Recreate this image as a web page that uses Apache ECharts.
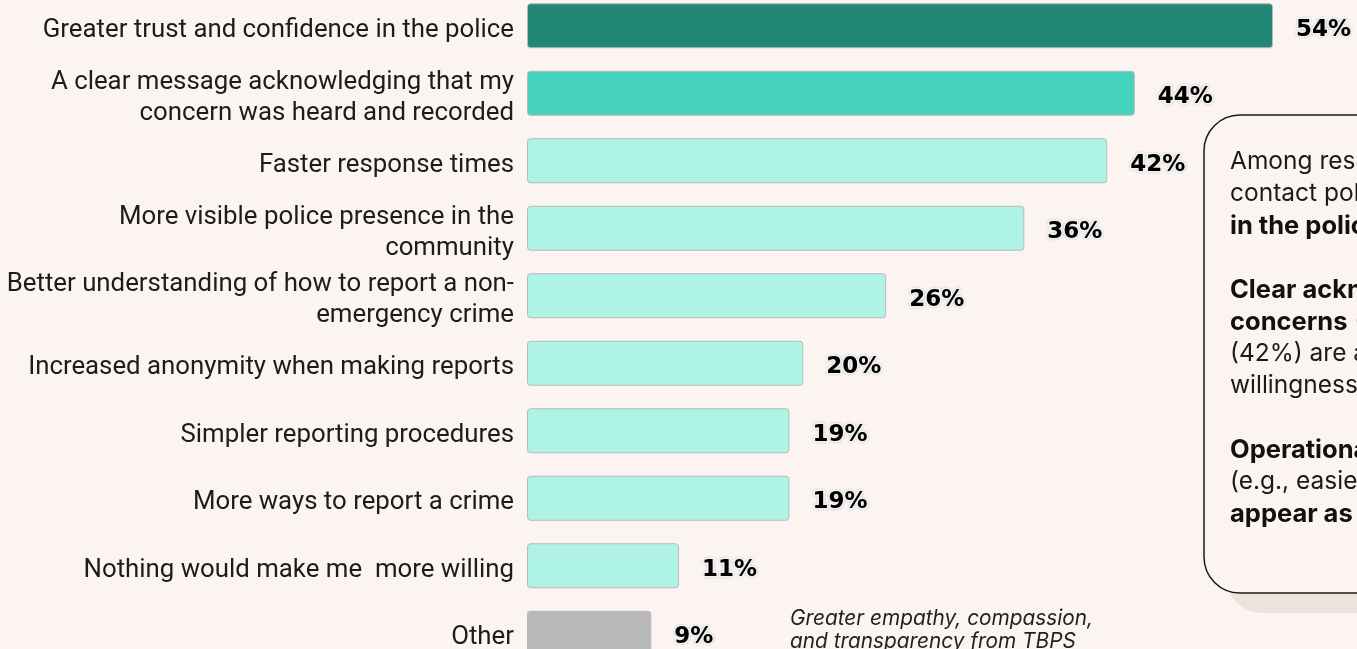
<!DOCTYPE html>
<html>
<head>
<meta charset="utf-8">
<script src="https://cdn.jsdelivr.net/npm/echarts@6/dist/echarts.min.js"></script>
<style>
  html, body { margin: 0; padding: 0; background: #FCF4F1; overflow: hidden; width: 1357px; height: 649px; }
  #chart { position: absolute; left: 0; top: -8px; width: 1357px; height: 675px; }
</style>
</head>
<body>
<div id="chart"></div>
<script>
// Survey: what would make respondents more willing to contact police
const categories = [
  'Greater trust and confidence in the police',
  'A clear message acknowledging that my\nconcern was heard and recorded',
  'Faster response times',
  'More visible police presence in the\ncommunity',
  'Better understanding of how to report a non-\nemergency crime',
  'Increased anonymity when making reports',
  'Simpler reporting procedures',
  'More ways to report a crime',
  'Nothing would make me  more willing',
  'Other'
];
const values = [54, 44, 42, 36, 26, 20, 19, 19, 11, 9];
const barColors = ['#228677', '#45D3BD', '#AFF2E6', '#AFF2E6', '#AFF2E6', '#AFF2E6', '#AFF2E6', '#AFF2E6', '#AFF2E6', '#B8B8B8'];
const otherNote = 'Greater empathy, compassion,\nand transparency from TBPS';

const chart = echarts.init(document.getElementById('chart'), null, { renderer: 'canvas' });

const seriesData = values.map((v, i) => ({
  value: v,
  itemStyle: { color: barColors[i] }
}));

// the canvas sits 8px above the page top; graphic y values include that offset
const OFF = 8;

chart.setOption({
  backgroundColor: '#FCF4F1',
  animation: false,
  grid: { left: 527, right: 84, top: 0, bottom: 0, containLabel: false },
  xAxis: {
    type: 'value', min: 0, max: 54,
    show: false
  },
  yAxis: {
    type: 'category',
    data: categories,
    inverse: true,
    axisLine: { show: false },
    axisTick: { show: false },
    axisLabel: {
      margin: 13,
      fontFamily: 'Roboto',
      fontSize: 25.8,
      lineHeight: 31,
      color: '#1c1c1c',
      align: 'right',
      // a thin spacer line above each label nudges the text block slightly down
      formatter: (v) => '{s| }\n' + v,
      rich: {
        s: { fontSize: 1, lineHeight: 9 }
      }
    }
  },
  series: [{
    type: 'bar',
    data: seriesData,
    barWidth: 45,
    itemStyle: { borderColor: '#b9b9b9', borderWidth: 1, borderRadius: 3 },
    label: {
      show: true,
      position: 'right',
      distance: 23,
      offset: [0, 4],
      formatter: '{c}%',
      fontFamily: 'DejaVu Sans',
      fontWeight: 'bold',
      fontSize: 23,
      color: '#000',
      textBorderColor: '#fff',
      textBorderWidth: 3,
      textShadowColor: 'rgba(0,0,0,0.25)',
      textShadowBlur: 2
    }
  }],
  graphic: [
    // callout shadow
    { type: 'rect', shape: { x: 1226, y: 135 + OFF, width: 220, height: 478, r: 36 }, style: { fill: '#EDE3DD' }, z: 1 },
    // callout box
    { type: 'rect', shape: { x: 1204, y: 115 + OFF, width: 220, height: 478, r: 36 }, style: { fill: '#FCF4F1', stroke: '#1a1a1a', lineWidth: 1.5 }, z: 2 },
    {
      type: 'text', x: 1230, y: 146 + OFF, z: 3,
      style: {
        text: 'Among respondents less willing to\ncontact police, {b|greater trust}\n{b|in the police} (54%) ranks first.\n\n{b|Clear acknowledgement of}\n{b|concerns} (44%) and faster response\n(42%) are also key to raising\nwillingness to report.\n\n{b|Operational improvements}\n(e.g., easier reporting) also\n{b|appear as motivators.}',
        fontFamily: 'Inter',
        fontSize: 24.5,
        lineHeight: 32,
        fill: '#1a1a1a',
        rich: {
          b: { fontFamily: 'Inter', fontSize: 25.5, fontWeight: 'bold', lineHeight: 32, fill: '#111' }
        }
      }
    },
    {
      type: 'text', x: 790, y: 607 + OFF, z: 3,
      style: {
        text: otherNote,
        fontFamily: 'Inter',
        fontStyle: 'italic',
        fontSize: 20.8,
        lineHeight: 23,
        fill: '#222'
      }
    }
  ]
});
</script>
</body>
</html>
